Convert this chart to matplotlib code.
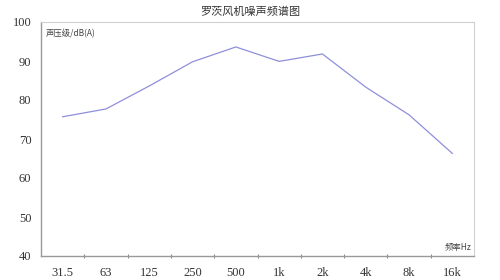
import matplotlib
matplotlib.use("Agg")
import matplotlib.pyplot as plt

plt.rcParams['font.family'] = ['Noto Sans CJK SC', 'DejaVu Sans']

categories = ["31.5", "63", "125", "250", "500", "1k", "2k", "4k", "8k", "16k"]
levels = [75.7, 77.7, 83.6, 89.8, 93.6, 89.9, 91.8, 83.3, 76.2, 66.3]
yticks = [40, 50, 60, 70, 80, 90, 100]

fig = plt.figure(figsize=(5, 2.8), dpi=100)
ax = fig.add_axes([41/500, 1-256/280, 433/500, 234/280])

x = list(range(len(categories)))
ax.plot(x, levels, color='#8f8fdc', lw=0.9)

ax.set_xlim(-0.5, len(categories) - 0.5)
ax.set_ylim(40, 100)
serif = ['Liberation Serif', 'DejaVu Serif']
ax.set_yticks(yticks)
ax.set_yticklabels([str(v) for v in yticks], family=serif, fontsize=9, color='#333333')
ax.set_xticks(x)
ax.set_xticklabels(categories, family=serif, fontsize=9, color='#333333')
ax.tick_params(axis='x', length=0, pad=8)
ax.tick_params(axis='y', length=0, pad=7)
# boundary ticks
ax.set_xticks([i + 0.5 for i in range(len(categories) - 1)], minor=True)
ax.tick_params(axis='x', which='minor', length=3, direction='inout', color='#888888', width=0.8)

for s in ['left', 'bottom']:
    ax.spines[s].set_color('#999999')
    ax.spines[s].set_linewidth(1.0)
for s in ['top', 'right']:
    ax.spines[s].set_color('#d0d0d0')
    ax.spines[s].set_linewidth(0.8)

fig.text(0.5, 1-12/280, "罗茨风机噪声频谱图", ha='center', va='center', fontsize=8, color='#333333')
ax.text(0.01, 0.95, "声压级/dB(A)", transform=ax.transAxes, ha='left', va='center', fontsize=6, color='#444444')
ax.text(0.995, 0.035, "频率Hz", transform=ax.transAxes, ha='right', va='center', fontsize=6, color='#444444')

fig.savefig("out.png", dpi=100)
